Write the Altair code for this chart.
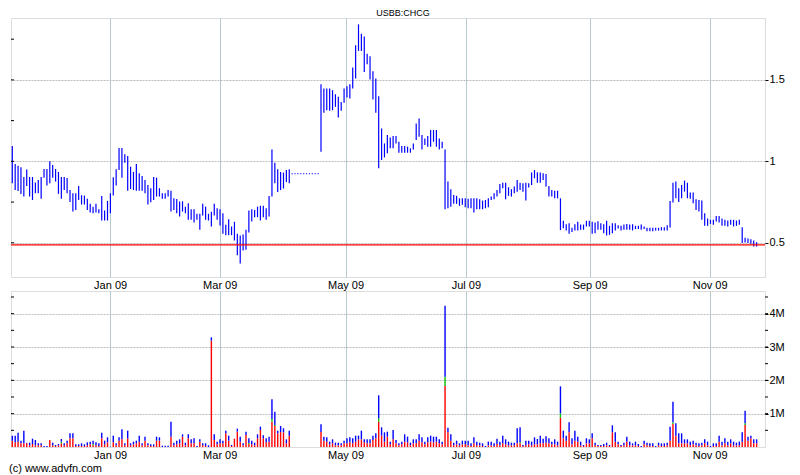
"""ADVFN style price and volume chart for USBB:CHCG."""

import altair as alt
import pandas as pd

TITLE = "USBB:CHCG"
FOOTER = "(c) www.advfn.com"

# daily high / low, one entry per trading day (index 0 = mid Nov 2008)
HIGH = [
    1.094, 0.984, 0.973, 0.963, 0.904, 0.950, 0.904, 0.904, 0.870, 0.886,
    0.904, 0.953, 0.953, 1.000, 0.978, 0.953, 0.935, 0.904, 0.904, 0.898,
    0.824, 0.804, 0.804, 0.849, 0.792, 0.790, 0.771, 0.739, 0.722, 0.739,
    0.706, 0.788, 0.698, 0.757, 0.804, 0.902, 0.951, 1.082, 1.082, 1.043,
    1.033, 0.967, 0.935, 0.984, 0.927, 0.910, 0.886, 0.855, 0.835, 0.904,
    0.900, 0.835, 0.804, 0.804, 0.824, 0.820, 0.773, 0.769, 0.753, 0.755,
    0.722, 0.743, 0.706, 0.706, 0.678, 0.678, 0.739, 0.722, 0.678, 0.690,
    0.739, 0.712, 0.706, 0.682, 0.610, 0.645, 0.600, 0.629, 0.555, 0.545,
    0.551, 0.580, 0.698, 0.706, 0.702, 0.722, 0.727, 0.727, 0.712, 0.788,
    1.073, 0.992, 0.951, 0.935, 0.931, 0.947, 0.951, 0.927, 0.927, 0.927,
    0.927, 0.927, 0.927, 0.927, 0.927, 0.927, 0.927, 1.473, 1.447, 1.447,
    1.447, 1.437, 1.412, 1.396, 1.365, 1.447, 1.461, 1.473, 1.576, 1.712,
    1.841, 1.784, 1.767, 1.661, 1.645, 1.553, 1.508, 1.400, 1.202, 1.110,
    1.161, 1.147, 1.155, 1.155, 1.120, 1.094, 1.094, 1.090, 1.080, 1.110,
    1.233, 1.263, 1.161, 1.141, 1.155, 1.192, 1.192, 1.192, 1.141, 1.120,
    1.073, 0.876, 0.829, 0.794, 0.788, 0.773, 0.773, 0.773, 0.771, 0.773,
    0.773, 0.773, 0.767, 0.759, 0.763, 0.773, 0.784, 0.804, 0.824, 0.861,
    0.869, 0.869, 0.841, 0.829, 0.845, 0.886, 0.869, 0.865, 0.869, 0.865,
    0.931, 0.947, 0.933, 0.931, 0.927, 0.922, 0.849, 0.824, 0.820, 0.820,
    0.773, 0.635, 0.614, 0.620, 0.592, 0.614, 0.629, 0.612, 0.612, 0.635,
    0.635, 0.629, 0.624, 0.633, 0.620, 0.614, 0.635, 0.604, 0.620, 0.620,
    0.608, 0.604, 0.612, 0.616, 0.612, 0.614, 0.604, 0.604, 0.612, 0.600,
    0.592, 0.592, 0.592, 0.592, 0.592, 0.596, 0.596, 0.608, 0.757, 0.869,
    0.876, 0.835, 0.855, 0.882, 0.869, 0.808, 0.808, 0.767, 0.763, 0.759,
    0.682, 0.649, 0.641, 0.641, 0.665, 0.665, 0.649, 0.641, 0.637, 0.641,
    0.641, 0.637, 0.641, 0.596, 0.531, 0.527, 0.522, 0.514, 0.504,
]
LOW = [
    0.865, 0.824, 0.818, 0.800, 0.784, 0.849, 0.784, 0.763, 0.804, 0.804,
    0.770, 0.900, 0.851, 0.865, 0.900, 0.876, 0.800, 0.770, 0.824, 0.804,
    0.751, 0.692, 0.702, 0.763, 0.735, 0.735, 0.702, 0.686, 0.682, 0.686,
    0.682, 0.637, 0.637, 0.637, 0.682, 0.790, 0.851, 0.947, 0.900, 0.992,
    0.820, 0.830, 0.824, 0.820, 0.820, 0.820, 0.804, 0.735, 0.749, 0.763,
    0.784, 0.784, 0.770, 0.770, 0.784, 0.692, 0.702, 0.682, 0.661, 0.692,
    0.682, 0.641, 0.641, 0.625, 0.641, 0.580, 0.667, 0.641, 0.637, 0.600,
    0.667, 0.641, 0.606, 0.555, 0.547, 0.547, 0.547, 0.514, 0.424, 0.373,
    0.453, 0.457, 0.563, 0.631, 0.657, 0.657, 0.637, 0.657, 0.641, 0.661,
    0.784, 0.865, 0.812, 0.824, 0.833, 0.873, 0.865, 0.921, 0.921, 0.921,
    0.921, 0.921, 0.921, 0.921, 0.921, 0.921, 0.921, 1.059, 1.298, 1.314,
    1.310, 1.314, 1.335, 1.269, 1.310, 1.359, 1.392, 1.386, 1.447, 1.508,
    1.678, 1.678, 1.549, 1.596, 1.502, 1.380, 1.298, 0.957, 1.008, 1.024,
    1.049, 1.080, 1.080, 1.110, 1.053, 1.053, 1.053, 1.053, 1.053, 1.073,
    1.131, 1.151, 1.073, 1.100, 1.090, 1.090, 1.120, 1.090, 1.073, 1.080,
    0.706, 0.712, 0.722, 0.739, 0.739, 0.727, 0.733, 0.718, 0.712, 0.712,
    0.686, 0.706, 0.706, 0.706, 0.712, 0.718, 0.763, 0.767, 0.784, 0.804,
    0.835, 0.767, 0.788, 0.784, 0.804, 0.814, 0.824, 0.814, 0.759, 0.839,
    0.855, 0.896, 0.869, 0.869, 0.886, 0.845, 0.784, 0.784, 0.773, 0.773,
    0.578, 0.590, 0.575, 0.555, 0.567, 0.575, 0.575, 0.580, 0.580, 0.600,
    0.600, 0.555, 0.559, 0.580, 0.580, 0.559, 0.545, 0.549, 0.559, 0.576,
    0.588, 0.575, 0.580, 0.580, 0.580, 0.576, 0.584, 0.584, 0.580, 0.584,
    0.571, 0.571, 0.571, 0.575, 0.575, 0.576, 0.576, 0.576, 0.594, 0.747,
    0.773, 0.751, 0.773, 0.814, 0.773, 0.771, 0.743, 0.702, 0.692, 0.641,
    0.604, 0.604, 0.616, 0.610, 0.630, 0.624, 0.604, 0.604, 0.600, 0.610,
    0.600, 0.604, 0.610, 0.498, 0.502, 0.498, 0.494, 0.478, 0.478,
]
LAST_PRICE = 0.487

# volume in millions: total, sell part (red), unknown part (green)
VOL = [
    0.34, 0.34, 0.43, 0.19, 0.49, 0.13, 0.13, 0.25, 0.21, 0.11,
    0.11, 0.03, 0.03, 0.21, 0.13, 0.06, 0.09, 0.24, 0.11, 0.19,
    0.41, 0.41, 0.08, 0.08, 0.11, 0.08, 0.14, 0.16, 0.19, 0.14,
    0.11, 0.43, 0.19, 0.29, 0.01, 0.34, 0.11, 0.29, 0.53, 0.11,
    0.49, 0.11, 0.16, 0.19, 0.34, 0.11, 0.31, 0.11, 0.08, 0.08,
    0.31, 0.29, 0.04, 0.04, 0.04, 0.76, 0.13, 0.19, 0.23, 0.38,
    0.13, 0.38, 0.23, 0.26, 0.03, 0.23, 0.11, 0.11, 0.05, 3.29,
    0.38, 0.16, 0.23, 0.19, 0.49, 0.34, 0.06, 0.25, 0.55, 0.31,
    0.11, 0.46, 0.26, 0.19, 0.13, 0.38, 0.61, 0.35, 0.26, 0.31,
    1.43, 1.06, 0.49, 0.63, 0.56, 0.23, 0.49, 0.00, 0.00, 0.00,
    0.00, 0.00, 0.00, 0.00, 0.00, 0.00, 0.00, 0.68, 0.31, 0.29,
    0.16, 0.23, 0.13, 0.13, 0.11, 0.19, 0.26, 0.29, 0.26, 0.34,
    0.34, 0.49, 0.23, 0.23, 0.23, 0.34, 0.41, 1.55, 0.59, 0.44,
    0.46, 0.16, 0.51, 0.21, 0.11, 0.16, 0.38, 0.31, 0.13, 0.23,
    0.23, 0.38, 0.29, 0.16, 0.29, 0.34, 0.31, 0.31, 0.23, 0.16,
    4.24, 0.58, 0.38, 0.13, 0.19, 0.11, 0.19, 0.19, 0.19, 0.11,
    0.29, 0.16, 0.13, 0.11, 0.03, 0.16, 0.16, 0.11, 0.25, 0.16,
    0.34, 0.23, 0.16, 0.13, 0.13, 0.56, 0.59, 0.06, 0.19, 0.19,
    0.16, 0.29, 0.24, 0.34, 0.25, 0.32, 0.26, 0.16, 0.23, 0.16,
    1.82, 0.49, 0.34, 0.74, 0.26, 0.49, 0.31, 0.16, 0.06, 0.26,
    0.23, 0.41, 0.13, 0.06, 0.06, 0.09, 0.13, 0.06, 0.65, 0.44,
    0.16, 0.06, 0.13, 0.31, 0.16, 0.11, 0.16, 0.09, 0.03, 0.19,
    0.13, 0.11, 0.11, 0.03, 0.13, 0.11, 0.11, 0.13, 0.61, 1.36,
    0.71, 0.41, 0.41, 0.23, 0.23, 0.16, 0.19, 0.13, 0.11, 0.13,
    0.23, 0.16, 0.03, 0.11, 0.11, 0.34, 0.16, 0.26, 0.16, 0.23,
    0.16, 0.13, 0.16, 0.44, 1.09, 0.31, 0.34, 0.23, 0.23,
]
VOL_RED = [
    0.19, 0.14, 0.16, 0.11, 0.11, 0.11, 0.05, 0.09, 0.05, 0.05,
    0.05, 0.00, 0.00, 0.21, 0.05, 0.03, 0.05, 0.11, 0.05, 0.11,
    0.26, 0.26, 0.03, 0.03, 0.03, 0.03, 0.05, 0.08, 0.05, 0.05,
    0.03, 0.26, 0.08, 0.14, 0.00, 0.14, 0.05, 0.19, 0.23, 0.05,
    0.26, 0.05, 0.08, 0.11, 0.16, 0.05, 0.19, 0.05, 0.03, 0.03,
    0.19, 0.19, 0.00, 0.00, 0.00, 0.31, 0.05, 0.08, 0.11, 0.31,
    0.05, 0.26, 0.11, 0.11, 0.00, 0.16, 0.05, 0.03, 0.00, 3.19,
    0.21, 0.08, 0.11, 0.11, 0.41, 0.19, 0.03, 0.25, 0.46, 0.16,
    0.05, 0.36, 0.09, 0.08, 0.05, 0.26, 0.51, 0.26, 0.14, 0.16,
    0.76, 0.63, 0.41, 0.45, 0.44, 0.11, 0.34, 0.00, 0.00, 0.00,
    0.00, 0.00, 0.00, 0.00, 0.00, 0.00, 0.00, 0.45, 0.19, 0.16,
    0.08, 0.11, 0.05, 0.05, 0.05, 0.11, 0.11, 0.14, 0.11, 0.16,
    0.23, 0.23, 0.14, 0.11, 0.11, 0.21, 0.26, 0.76, 0.34, 0.16,
    0.31, 0.08, 0.23, 0.11, 0.05, 0.08, 0.16, 0.14, 0.05, 0.11,
    0.11, 0.19, 0.14, 0.08, 0.14, 0.16, 0.14, 0.16, 0.11, 0.08,
    1.83, 0.44, 0.19, 0.05, 0.08, 0.05, 0.08, 0.08, 0.05, 0.03,
    0.11, 0.05, 0.05, 0.03, 0.00, 0.05, 0.05, 0.03, 0.09, 0.05,
    0.11, 0.08, 0.05, 0.05, 0.05, 0.11, 0.11, 0.03, 0.05, 0.08,
    0.05, 0.08, 0.08, 0.11, 0.11, 0.13, 0.11, 0.08, 0.08, 0.05,
    0.88, 0.26, 0.19, 0.44, 0.08, 0.19, 0.16, 0.05, 0.03, 0.11,
    0.11, 0.26, 0.05, 0.03, 0.03, 0.03, 0.05, 0.03, 0.44, 0.16,
    0.08, 0.03, 0.05, 0.16, 0.05, 0.05, 0.05, 0.03, 0.00, 0.08,
    0.05, 0.03, 0.03, 0.00, 0.05, 0.03, 0.03, 0.05, 0.19, 0.69,
    0.34, 0.11, 0.11, 0.11, 0.11, 0.05, 0.08, 0.05, 0.03, 0.05,
    0.11, 0.05, 0.00, 0.03, 0.03, 0.16, 0.05, 0.11, 0.05, 0.11,
    0.05, 0.05, 0.05, 0.16, 0.66, 0.19, 0.26, 0.11, 0.11,
]
VOL_GREEN = {17: 0.05, 28: 0.04, 82: 0.03, 90: 0.08, 91: 0.03, 127: 0.10,
             150: 0.28, 176: 0.03, 190: 0.13, 229: 0.05, 254: 0.05}

MONTH_LABELS = ["Jan 09", "Mar 09", "May 09", "Jul 09", "Sep 09", "Nov 09"]
MONTH_POS = [33.9, 71.9, 115.5, 157.2, 200.1, 241.7]
PRICE_TICKS = [0.5, 1, 1.5]
PRICE_MINOR = [0.5, 0.75, 1, 1.25, 1.5, 1.75]
VOL_TICKS = [1, 2, 3, 4]
VOL_MINOR = [0.5, 1, 1.5, 2, 2.5, 3, 3.5, 4, 4.5]

FONT = "Liberation Sans Narrow, Liberation Sans, Arial"
W = 754
H_PRICE = 259
H_VOL = 156
X_DOMAIN = [-0.45, 260.9]

price_df = pd.DataFrame({"idx": range(len(HIGH)), "high": HIGH, "low": LOW})

rows = []
for i, total in enumerate(VOL):
    red = VOL_RED[i]
    green = VOL_GREEN.get(i, 0.0)
    for part, y0, y1 in [("red", 0, red), ("green", red, red + green),
                         ("blue", red + green, total)]:
        if y1 > y0:
            rows.append({"idx": i, "part": part, "y0": y0, "y1": y1})
vol_df = pd.DataFrame(rows)

label_expr = "[{}][indexof([{}], datum.value)]".format(
    ",".join(f"'{m}'" for m in MONTH_LABELS),
    ",".join(str(p) for p in MONTH_POS))

x_axis = alt.Axis(values=MONTH_POS, labelExpr=label_expr, title=None,
                  grid=True, gridColor="#b4c8ce", ticks=False,
                  domain=False, labelPadding=2, labelOverlap=False,
                  labelFont=FONT, labelFontSize=11, labelColor="black")
x_scale = alt.Scale(domain=X_DOMAIN, nice=False, zero=False)


def y_axis(values, expr):
    return alt.Axis(orient="right", values=values, title=None, labelExpr=expr,
                    grid=True, gridColor="#bcbcbc", gridDash=[2, 1], tickSize=3,
                    tickColor="black", domain=False, labelPadding=1,
                    labelFont=FONT, labelFontSize=11, labelColor="black")


price_axis = y_axis(PRICE_TICKS, "toString(datum.value)")
price_scale = alt.Scale(domain=[0.29, 1.88], nice=False, zero=False)

bars = alt.Chart(price_df).mark_rule(color="#0000ff", strokeWidth=1.2).encode(
    x=alt.X("idx:Q", scale=x_scale, axis=x_axis),
    y=alt.Y("low:Q", scale=price_scale, axis=price_axis),
    y2="high:Q")

last_line = alt.Chart(pd.DataFrame({"price": [LAST_PRICE]})).mark_rule(
    color="#ff0000", strokeWidth=1.1).encode(
    y=alt.Y("price:Q", scale=price_scale, axis=price_axis))

price_ticks = alt.Chart(pd.DataFrame({"tick": PRICE_MINOR})).mark_rule(
    color="black").encode(y=alt.Y("tick:Q", scale=price_scale, axis=price_axis),
                          x=alt.value(0), x2=alt.value(3))

title = alt.Chart(pd.DataFrame({"t": [TITLE]})).mark_text(
    align="center", baseline="alphabetic", font="Liberation Sans", fontSize=9,
    color="black").encode(x=alt.value(392), y=alt.value(-2), text="t:N")

price_chart = alt.layer(bars, last_line, price_ticks, title).properties(
    width=W, height=H_PRICE)

vol_axis = y_axis(VOL_TICKS, "datum.value + 'M'")
vol_scale = alt.Scale(domain=[0, 4.68], nice=False)

vol_bars = alt.Chart(vol_df).mark_rule(strokeWidth=1.4).encode(
    x=alt.X("idx:Q", scale=x_scale, axis=x_axis),
    y=alt.Y("y0:Q", scale=vol_scale, axis=vol_axis),
    y2="y1:Q",
    color=alt.Color("part:N", legend=None,
                    scale=alt.Scale(domain=["red", "green", "blue"],
                                    range=["#ff0000", "#00c000", "#0000ff"])))

vol_ticks_left = alt.Chart(pd.DataFrame({"tick": VOL_MINOR})).mark_rule(
    color="black").encode(y=alt.Y("tick:Q", scale=vol_scale, axis=vol_axis),
                          x=alt.value(0), x2=alt.value(3))
vol_ticks_right = alt.Chart(pd.DataFrame({"tick": VOL_MINOR})).mark_rule(
    color="black").encode(y=alt.Y("tick:Q", scale=vol_scale, axis=vol_axis),
                          x=alt.value(W), x2=alt.value(W + 3))

footer = alt.Chart(pd.DataFrame({"t": [FOOTER]})).mark_text(
    align="left", baseline="alphabetic", font=FONT, fontSize=11, color="black").encode(
    x=alt.value(-2), y=alt.value(H_VOL + 25), text="t:N")

vol_chart = alt.layer(vol_bars, vol_ticks_left, vol_ticks_right, footer).properties(
    width=W, height=H_VOL)

chart = alt.vconcat(price_chart, vol_chart, spacing=14, bounds="flush").properties(
    padding={"left": 0, "top": 0, "right": 5, "bottom": 0},
).configure_view(stroke="black", strokeWidth=1).configure(background="white")

chart.save("out.html", embed_options={"renderer": "svg", "actions": False})
